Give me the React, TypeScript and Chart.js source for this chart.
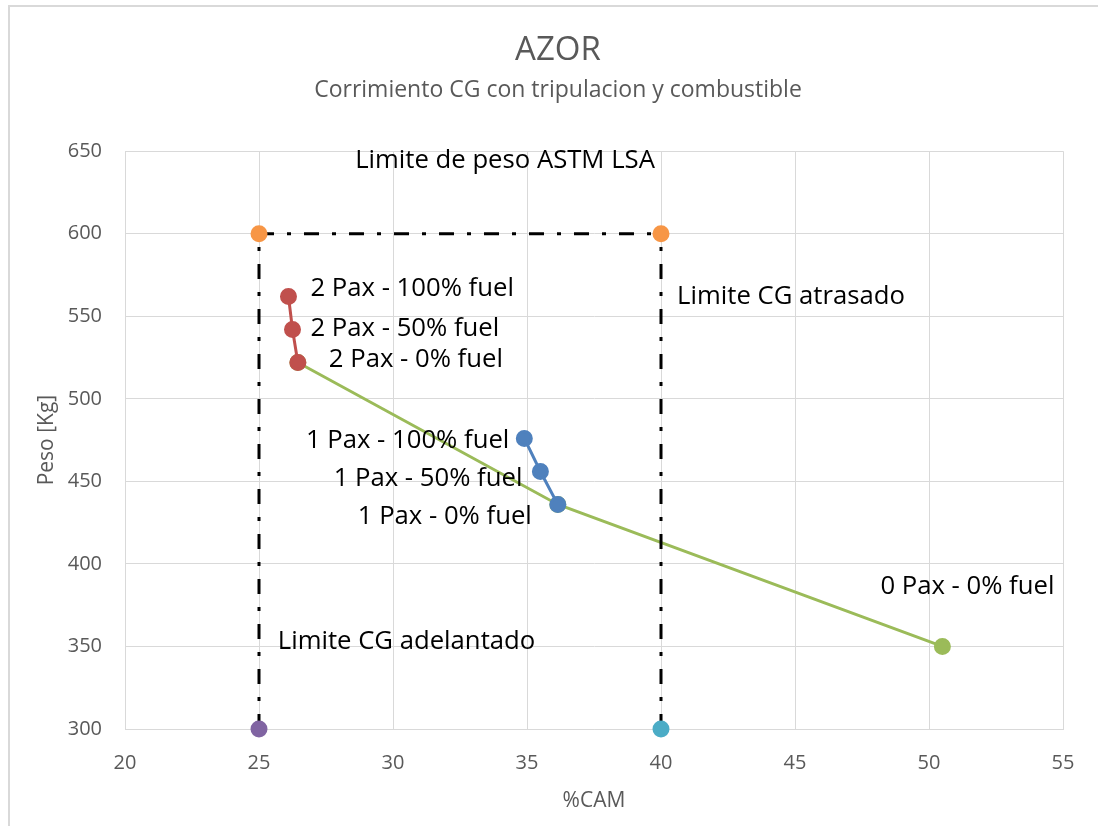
import React, { useEffect, useRef } from "react";
import { Chart, registerables } from "chart.js";

Chart.register(...registerables);

// ---- data ----
const xTicks = [20, 25, 30, 35, 40, 45, 50, 55];
const yTicks = [300, 350, 400, 450, 500, 550, 600, 650];

const weightLimitX = [25, 40];
const weightLimitY = [600, 600];

const fwdLimitX = [25, 25];
const fwdLimitY = [300, 600];

const aftLimitX = [40, 40];
const aftLimitY = [300, 600];

const pax2X = [26.1, 26.25, 26.45];
const pax2Y = [562, 542, 522];
const pax2Labels = ["2 Pax - 100% fuel", "2 Pax - 50% fuel", "2 Pax - 0% fuel"];

const pax1X = [34.9, 35.5, 36.15];
const pax1Y = [476, 456, 436];
const pax1Labels = ["1 Pax - 100% fuel", "1 Pax - 50% fuel", "1 Pax - 0% fuel"];

const pathX = [26.45, 36.15, 50.5];
const pathY = [522, 436, 350];
const pathLabels = ["", "", "0 Pax - 0% fuel"];

const noteTexts = ["Limite de peso ASTM LSA", "Limite CG atrasado", "Limite CG adelantado"];
const noteX = [34.18, 40.6, 25.7];
const noteY = [644, 562, 353];

const FONT = "'Open Sans', 'DejaVu Sans', sans-serif";
const DASH = [15, 13, 4, 13];

function pts(xs: number[], ys: number[]) {
  return xs.map((x, i) => ({ x, y: ys[i] }));
}

export default function App() {
  const ref = useRef<HTMLCanvasElement>(null);

  useEffect(() => {
    if (!ref.current) return;

    const labelPlugin = {
      id: "pointTextLabels",
      afterDatasetsDraw(chart: any) {
        const ctx = chart.ctx;
        ctx.save();
        ctx.font = `25.7px ${FONT}`;
        ctx.fillStyle = "#000000";
        ctx.textBaseline = "middle";
        chart.data.datasets.forEach((ds: any, di: number) => {
          const cfg = ds.textLabels;
          if (!cfg) return;
          const meta = chart.getDatasetMeta(di);
          cfg.texts.forEach((t: string, i: number) => {
            if (!t) return;
            const el = meta.data[i];
            const [dx, dy, align] = cfg.offsets[i];
            ctx.textAlign = align;
            ctx.fillText(t, el.x + dx, el.y + dy);
          });
        });
        const xs = chart.scales.x;
        const ys = chart.scales.y;
        const aligns = ["center", "left", "left"];
        noteTexts.forEach((t, i) => {
          ctx.textAlign = aligns[i];
          ctx.fillText(t, xs.getPixelForValue(noteX[i]), ys.getPixelForValue(noteY[i]));
        });
        ctx.restore();
      },
    };

    const chart = new Chart(ref.current, {
      type: "scatter",
      data: {
        datasets: [
          {
            label: "Limite de peso",
            data: pts(weightLimitX, weightLimitY),
            showLine: true,
            clip: false,
            borderColor: "#000000",
            borderWidth: 3,
            borderDash: DASH,
            backgroundColor: "#F79646",
            pointBackgroundColor: "#F79646",
            pointBorderColor: "#F79646",
            pointRadius: 7,
          },
          {
            label: "1 Pax",
            data: pts(pax1X, pax1Y),
            showLine: true,
            borderColor: "#4F81BD",
            borderWidth: 3,
            pointBackgroundColor: "#4F81BD",
            pointBorderColor: "#4F81BD",
            pointRadius: 7,
            textLabels: {
              texts: pax1Labels,
              offsets: [
                [-15, 2, "right"],
                [-18, 7, "right"],
                [-26, 12, "right"],
              ],
            },
          } as any,
          {
            label: "2 Pax",
            data: pts(pax2X, pax2Y),
            showLine: true,
            borderColor: "#C0504D",
            borderWidth: 3,
            pointBackgroundColor: "#C0504D",
            pointBorderColor: "#C0504D",
            pointRadius: 7,
            textLabels: {
              texts: pax2Labels,
              offsets: [
                [22, -8, "left"],
                [18, -1, "left"],
                [31, -3, "left"],
              ],
            },
          } as any,
          {
            label: "Limite CG adelantado",
            data: pts(fwdLimitX, fwdLimitY),
            showLine: true,
            clip: false,
            borderColor: "#000000",
            borderWidth: 3,
            borderDash: DASH,
            pointBackgroundColor: "#8064A2",
            pointBorderColor: "#8064A2",
            pointRadius: [7, 0],
          },
          {
            label: "Limite CG atrasado",
            data: pts(aftLimitX, aftLimitY),
            showLine: true,
            clip: false,
            borderColor: "#000000",
            borderWidth: 3,
            borderDash: DASH,
            pointBackgroundColor: "#4BACC6",
            pointBorderColor: "#4BACC6",
            pointRadius: [7, 0],
          },
          {
            label: "Corrimiento",
            data: pts(pathX, pathY),
            showLine: true,
            borderColor: "#9BBB59",
            borderWidth: 3,
            pointBackgroundColor: "#9BBB59",
            pointBorderColor: "#9BBB59",
            pointRadius: 7,
            textLabels: {
              texts: pathLabels,
              offsets: [
                [0, 0, "left"],
                [0, 0, "left"],
                [25, -60, "center"],
              ],
            },
          } as any,
        ],
      },
      options: {
        animation: false,
        responsive: false,
        maintainAspectRatio: false,
        layout: { padding: { left: 18, right: 0, top: 0, bottom: 0 } },
        plugins: {
          legend: { display: false },
          tooltip: { enabled: false },
          title: {
            display: true,
            text: "AZOR",
            color: "#595959",
            font: { family: FONT, size: 33, weight: "normal" },
            padding: { top: 31, bottom: 2 },
          },
          subtitle: {
            display: true,
            text: "Corrimiento CG con tripulacion y combustible",
            color: "#595959",
            font: { family: FONT, size: 23, weight: "normal" },
            padding: { top: 4, bottom: 47 },
          },
        },
        scales: {
          x: {
            type: "linear",
            min: 20,
            max: 55,
            afterBuildTicks: (scale: any) => {
              scale.ticks = xTicks.map((v) => ({ value: v }));
            },
            afterFit: (scale: any) => {
              scale.height = 97;
            },
            ticks: {
              color: "#595959",
              font: { family: FONT, size: 20 },
              padding: 22,
            },
            grid: { color: "#D9D9D9", lineWidth: 1, drawTicks: false },
            border: { color: "#D9D9D9", width: 1 },
            title: {
              display: true,
              text: "%CAM",
              color: "#595959",
              font: { family: FONT, size: 21 },
              padding: { top: 0, bottom: 12 },
            },
          },
          y: {
            type: "linear",
            min: 300,
            max: 650,
            afterBuildTicks: (scale: any) => {
              scale.ticks = yTicks.map((v) => ({ value: v }));
            },
            afterFit: (scale: any) => {
              scale.width = 107;
            },
            ticks: {
              color: "#595959",
              font: { family: FONT, size: 20 },
              padding: 23,
            },
            grid: { color: "#D9D9D9", lineWidth: 1, drawTicks: false },
            border: { color: "#D9D9D9", width: 1 },
            title: {
              display: true,
              text: "Peso [Kg]",
              color: "#595959",
              font: { family: FONT, size: 21 },
              padding: { top: 16, bottom: 0 },
            },
          },
          yRight: {
            type: "linear",
            position: "right",
            display: true,
            min: 300,
            max: 650,
            afterFit: (scale: any) => {
              scale.width = 35;
            },
            ticks: { display: false },
            grid: { display: false, drawOnChartArea: false },
            border: { display: false },
          },
        },
      } as any,
      plugins: [labelPlugin],
    });

    return () => chart.destroy();
  }, []);

  return (
    <div style={{ position: "fixed", left: 0, top: 0, width: 1098, height: 826, overflow: "hidden", background: "#ffffff" }}>
      <div
        style={{
          position: "absolute",
          left: 8,
          top: 5,
          width: 1200,
          height: 1000,
          borderLeft: "2px solid #D9D9D9",
          borderTop: "2px solid #D9D9D9",
        }}
      />
      <canvas ref={ref} width={1098} height={826} style={{ position: "absolute", left: 0, top: 0 }} />
    </div>
  );
}
